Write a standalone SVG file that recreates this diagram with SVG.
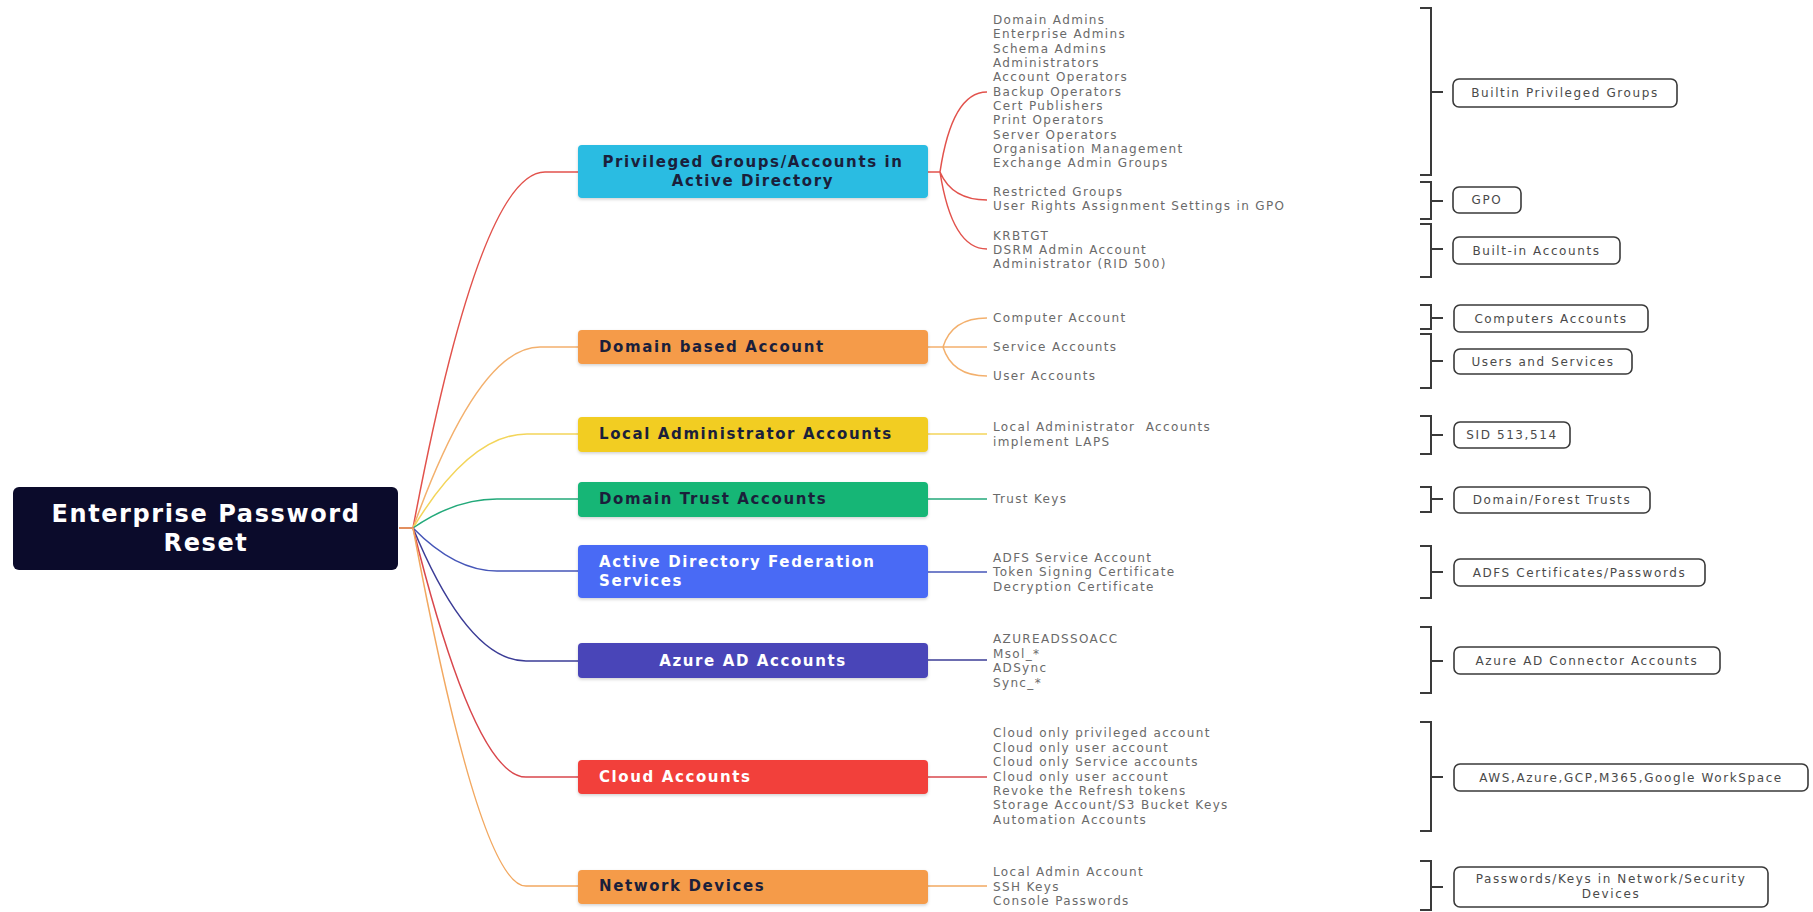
<svg xmlns="http://www.w3.org/2000/svg" width="1813" height="912" viewBox="0 0 1813 912">
<defs>
<filter id="sh" x="-5%" y="-20%" width="110%" height="150%">
<feDropShadow dx="0" dy="1.5" stdDeviation="1.5" flood-color="#000" flood-opacity="0.18"/>
</filter>
<style>
.root-t{font-family:"DejaVu Sans",sans-serif;font-weight:700;font-size:24px;letter-spacing:1.6px;fill:#fff}
.br-t{font-family:"DejaVu Sans",sans-serif;font-weight:700;font-size:15px;letter-spacing:1.6px}
.dark{fill:#1b1f3b}
.light{fill:#fff}
.li{font-family:"DejaVu Sans",sans-serif;font-size:12px;letter-spacing:1.35px;fill:#6a6a6a}
.bx{fill:#fff;stroke:#3a3a3a;stroke-width:1.6}
.bx-t{font-family:"DejaVu Sans",sans-serif;font-size:12px;letter-spacing:1.6px;fill:#4a4a4a}
.brk{fill:none;stroke:#3a3a3a;stroke-width:2}
.c{fill:none;stroke-width:1.5}
</style>
</defs>
<rect width="1813" height="912" fill="#fff"/>

<g id="connectors">
<path class="c" stroke="#e2524c" d="M399,528 H413 Q480,172 545,172 H578"/>
<path class="c" stroke="#f3b06d" d="M399,528 H413 Q478,347 540,347 H578"/>
<path class="c" stroke="#f3d55a" d="M399,528 H413 Q470,434 527,434 H578"/>
<path class="c" stroke="#23a97a" d="M399,528 H413 Q455,499 497,499 H578"/>
<path class="c" stroke="#4656b8" d="M399,528 H413 Q455,571 497,571 H578"/>
<path class="c" stroke="#3b3c96" d="M399,528 H413 Q468,661 526,661 H578"/>
<path class="c" stroke="#d9474c" d="M399,528 H413 Q475,777 526,777 H578"/>
<path class="c" stroke="#f2a860" d="M399,528 H413 Q480,886 526,886 H578"/>

<path class="c" stroke="#e2524c" d="M928,172 H940 M940,172 Q952,92 987,92 M940,172 Q952,200 987,200 M940,172 Q952,249 987,249"/>
<path class="c" stroke="#f3b06d" d="M928,347 H987 M943,347 Q952,318 987,318 M943,347 Q952,376 987,376"/>
<path class="c" stroke="#f3d55a" d="M928,434 H987"/>
<path class="c" stroke="#23a97a" d="M928,499 H987"/>
<path class="c" stroke="#4656b8" d="M928,572 H987"/>
<path class="c" stroke="#3b3c96" d="M928,660 H987"/>
<path class="c" stroke="#d9474c" d="M928,777 H987"/>
<path class="c" stroke="#f2a860" d="M928,886 H987"/>

<path class="brk" d="M1420,8 H1431 V175 H1420 M1431,92 H1443"/>
<path class="brk" d="M1420,182 H1431 V219 H1420 M1431,201 H1443"/>
<path class="brk" d="M1420,224 H1431 V277 H1420 M1431,249 H1443"/>
<path class="brk" d="M1420,305 H1431 V329 H1420 M1431,318 H1443"/>
<path class="brk" d="M1420,334 H1431 V388 H1420 M1431,361 H1443"/>
<path class="brk" d="M1420,416 H1431 V454 H1420 M1431,435 H1443"/>
<path class="brk" d="M1420,487 H1431 V512 H1420 M1431,499 H1443"/>
<path class="brk" d="M1420,546 H1431 V598 H1420 M1431,572 H1443"/>
<path class="brk" d="M1420,627 H1431 V693 H1420 M1431,661 H1443"/>
<path class="brk" d="M1420,722 H1431 V831 H1420 M1431,777 H1443"/>
<path class="brk" d="M1420,861 H1431 V910 H1420 M1431,887 H1443"/>
</g>

<g id="root">
<rect x="13" y="487" width="385" height="83" rx="6" fill="#0b0b2b"/>
<text class="root-t" x="206" y="514" text-anchor="middle" dominant-baseline="central">Enterprise Password</text>
<text class="root-t" x="206" y="543" text-anchor="middle" dominant-baseline="central">Reset</text>
</g>

<g id="n-privileged">
<rect x="578" y="145" width="350" height="53" rx="4" fill="#29bce2" filter="url(#sh)"/>
<text class="br-t dark" x="753" y="162" text-anchor="middle" dominant-baseline="central">Privileged Groups/Accounts in</text>
<text class="br-t dark" x="753" y="181" text-anchor="middle" dominant-baseline="central">Active Directory</text>
</g>
<g id="n-domain">
<rect x="578" y="330" width="350" height="34" rx="4" fill="#f59b48" filter="url(#sh)"/>
<text class="br-t dark" x="599" y="347" dominant-baseline="central">Domain based Account</text>
</g>
<g id="n-local">
<rect x="578" y="417" width="350" height="35" rx="4" fill="#f2cd22" filter="url(#sh)"/>
<text class="br-t dark" x="599" y="434" dominant-baseline="central">Local Administrator Accounts</text>
</g>
<g id="n-trust">
<rect x="578" y="482" width="350" height="35" rx="4" fill="#13b676" filter="url(#sh)"/>
<text class="br-t dark" x="599" y="499" dominant-baseline="central">Domain Trust Accounts</text>
</g>
<g id="n-adfs">
<rect x="578" y="545" width="350" height="53" rx="4" fill="#4a6bf5" filter="url(#sh)"/>
<text class="br-t light" x="599" y="562" dominant-baseline="central">Active Directory Federation</text>
<text class="br-t light" x="599" y="581" dominant-baseline="central">Services</text>
</g>
<g id="n-azure">
<rect x="578" y="643" width="350" height="35" rx="4" fill="#4a45b8" filter="url(#sh)"/>
<text class="br-t light" x="753" y="661" text-anchor="middle" dominant-baseline="central">Azure AD Accounts</text>
</g>
<g id="n-cloud">
<rect x="578" y="760" width="350" height="34" rx="4" fill="#f2403a" filter="url(#sh)"/>
<text class="br-t light" x="599" y="777" dominant-baseline="central">Cloud Accounts</text>
</g>
<g id="n-network">
<rect x="578" y="870" width="350" height="34" rx="4" fill="#f59b48" filter="url(#sh)"/>
<text class="br-t dark" x="599" y="886" dominant-baseline="central">Network Devices</text>
</g>

<g id="l-privileged">
<text class="li" x="993" y="20" dominant-baseline="central">Domain Admins</text>
<text class="li" x="993" y="34.3" dominant-baseline="central">Enterprise Admins</text>
<text class="li" x="993" y="48.7" dominant-baseline="central">Schema Admins</text>
<text class="li" x="993" y="63" dominant-baseline="central">Administrators</text>
<text class="li" x="993" y="77.3" dominant-baseline="central">Account Operators</text>
<text class="li" x="993" y="91.7" dominant-baseline="central">Backup Operators</text>
<text class="li" x="993" y="106" dominant-baseline="central">Cert Publishers</text>
<text class="li" x="993" y="120.3" dominant-baseline="central">Print Operators</text>
<text class="li" x="993" y="134.7" dominant-baseline="central">Server Operators</text>
<text class="li" x="993" y="149" dominant-baseline="central">Organisation Management</text>
<text class="li" x="993" y="163.3" dominant-baseline="central">Exchange Admin Groups</text>
<text class="li" x="993" y="192" dominant-baseline="central">Restricted Groups</text>
<text class="li" x="993" y="206.3" dominant-baseline="central">User Rights Assignment Settings in GPO</text>
<text class="li" x="993" y="235.5" dominant-baseline="central">KRBTGT</text>
<text class="li" x="993" y="249.5" dominant-baseline="central">DSRM Admin Account</text>
<text class="li" x="993" y="264" dominant-baseline="central">Administrator (RID 500)</text>
</g>
<g id="l-domain">
<text class="li" x="993" y="318" dominant-baseline="central">Computer Account</text>
<text class="li" x="993" y="347" dominant-baseline="central">Service Accounts</text>
<text class="li" x="993" y="376" dominant-baseline="central">User Accounts</text>
</g>
<g id="l-local">
<text class="li" x="993" y="427" dominant-baseline="central" xml:space="preserve">Local Administrator  Accounts</text>
<text class="li" x="993" y="442" dominant-baseline="central">implement LAPS</text>
</g>
<g id="l-trust">
<text class="li" x="993" y="499" dominant-baseline="central">Trust Keys</text>
</g>
<g id="l-adfs">
<text class="li" x="993" y="558" dominant-baseline="central">ADFS Service Account</text>
<text class="li" x="993" y="572" dominant-baseline="central">Token Signing Certificate</text>
<text class="li" x="993" y="586.5" dominant-baseline="central">Decryption Certificate</text>
</g>
<g id="l-azure">
<text class="li" x="993" y="639" dominant-baseline="central">AZUREADSSOACC</text>
<text class="li" x="993" y="653.5" dominant-baseline="central">Msol_*</text>
<text class="li" x="993" y="668" dominant-baseline="central">ADSync</text>
<text class="li" x="993" y="682.5" dominant-baseline="central">Sync_*</text>
</g>
<g id="l-cloud">
<text class="li" x="993" y="733" dominant-baseline="central">Cloud only privileged account</text>
<text class="li" x="993" y="747.5" dominant-baseline="central">Cloud only user account</text>
<text class="li" x="993" y="762" dominant-baseline="central">Cloud only Service accounts</text>
<text class="li" x="993" y="776.5" dominant-baseline="central">Cloud only user account</text>
<text class="li" x="993" y="791" dominant-baseline="central">Revoke the Refresh tokens</text>
<text class="li" x="993" y="805" dominant-baseline="central">Storage Account/S3 Bucket Keys</text>
<text class="li" x="993" y="819.5" dominant-baseline="central">Automation Accounts</text>
</g>
<g id="l-network">
<text class="li" x="993" y="872" dominant-baseline="central">Local Admin Account</text>
<text class="li" x="993" y="886.5" dominant-baseline="central">SSH Keys</text>
<text class="li" x="993" y="901" dominant-baseline="central">Console Passwords</text>
</g>

<g id="c-builtin-groups">
<rect class="bx" x="1453" y="79" width="224" height="28" rx="6"/>
<text class="bx-t" x="1565" y="93" text-anchor="middle" dominant-baseline="central">Builtin Privileged Groups</text>
</g>
<g id="c-gpo">
<rect class="bx" x="1453" y="187" width="68" height="26" rx="6"/>
<text class="bx-t" x="1487" y="200" text-anchor="middle" dominant-baseline="central">GPO</text>
</g>
<g id="c-builtin-accounts">
<rect class="bx" x="1453" y="237" width="167" height="27" rx="6"/>
<text class="bx-t" x="1536.5" y="250.5" text-anchor="middle" dominant-baseline="central">Built-in Accounts</text>
</g>
<g id="c-computers">
<rect class="bx" x="1454" y="305" width="194" height="27" rx="6"/>
<text class="bx-t" x="1551" y="318.5" text-anchor="middle" dominant-baseline="central">Computers Accounts</text>
</g>
<g id="c-users">
<rect class="bx" x="1454" y="349" width="178" height="25" rx="6"/>
<text class="bx-t" x="1543" y="361.5" text-anchor="middle" dominant-baseline="central">Users and Services</text>
</g>
<g id="c-sid">
<rect class="bx" x="1454" y="422" width="116" height="26" rx="6"/>
<text class="bx-t" x="1512" y="435" text-anchor="middle" dominant-baseline="central">SID 513,514</text>
</g>
<g id="c-trusts">
<rect class="bx" x="1454" y="487" width="196" height="26" rx="6"/>
<text class="bx-t" x="1552" y="500" text-anchor="middle" dominant-baseline="central">Domain/Forest Trusts</text>
</g>
<g id="c-adfs">
<rect class="bx" x="1454" y="559" width="251" height="27" rx="6"/>
<text class="bx-t" x="1579.5" y="572.5" text-anchor="middle" dominant-baseline="central">ADFS Certificates/Passwords</text>
</g>
<g id="c-azure">
<rect class="bx" x="1454" y="647" width="266" height="27" rx="6"/>
<text class="bx-t" x="1587" y="660.5" text-anchor="middle" dominant-baseline="central">Azure AD Connector Accounts</text>
</g>
<g id="c-cloud">
<rect class="bx" x="1454" y="764" width="354" height="27" rx="6"/>
<text class="bx-t" x="1631" y="777.5" text-anchor="middle" dominant-baseline="central">AWS,Azure,GCP,M365,Google WorkSpace</text>
</g>
<g id="c-network">
<rect class="bx" x="1454" y="867" width="314" height="40" rx="6"/>
<text class="bx-t" x="1611" y="879" text-anchor="middle" dominant-baseline="central">Passwords/Keys in Network/Security</text>
<text class="bx-t" x="1611" y="894" text-anchor="middle" dominant-baseline="central">Devices</text>
</g>
</svg>
